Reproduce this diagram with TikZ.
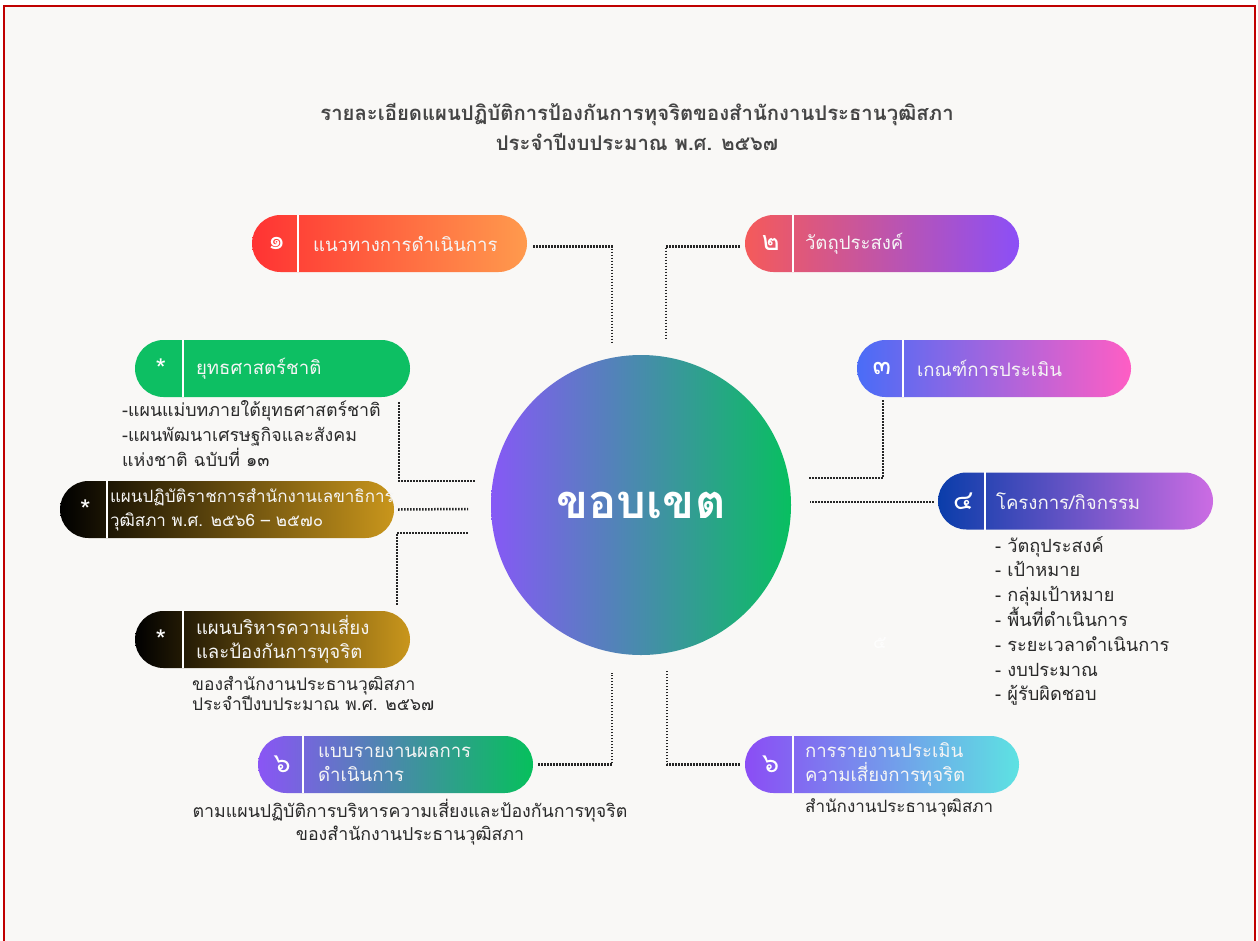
\documentclass[tikz,border=0pt]{standalone}
\usepackage{fontspec}
\setmainfont{Loma}[Script=Thai]
\definecolor{bg}{HTML}{F9F8F6}
\definecolor{frame}{HTML}{C00000}
\definecolor{txt}{HTML}{2A2A2A}
\definecolor{ttl}{HTML}{454545}
\definecolor{dots}{HTML}{262626}
\definecolor{cl}{HTML}{8659F6}\definecolor{cr}{HTML}{08BF60}
\definecolor{p1l}{HTML}{FF3333}\definecolor{p1r}{HTML}{FF9A4D}
\definecolor{p2l}{HTML}{F55A5A}\definecolor{p2r}{HTML}{8B4FF7}
\definecolor{p3l}{HTML}{4A6CF7}\definecolor{p3r}{HTML}{FF5EC4}
\definecolor{p4l}{HTML}{0A3DAA}\definecolor{p4r}{HTML}{CC6CE3}
\definecolor{sg}{HTML}{0DBF63}
\definecolor{gold}{HTML}{C9961C}
\definecolor{p6al}{HTML}{8A55F5}\definecolor{p6ar}{HTML}{06C05C}
\definecolor{p6bl}{HTML}{8B4DF5}\definecolor{p6br}{HTML}{5DE2E2}
\newcommand\mypill[9]{%
  \node[pillbox, minimum width=#4pt, #5] (#1) at (#2,#3) {};
  \draw[divider] ([xshift=#6pt]#1.north west) -- ([xshift=#6pt]#1.south west);
  \node[pillnum] (#1n) at ([xshift=#6pt/2+2pt]#1.west) {#8};
  \node[pilltext, anchor=west] (#1t) at ([xshift=#7pt]#1.west) {#9};
}
\tikzset{
  pillbox/.style={rectangle, rounded corners=28.5pt, minimum height=57pt, inner sep=0pt, draw=none},
  divider/.style={white, line width=2.5pt},
  pillnum/.style={text=white, font=\fontsize{27}{27}\selectfont, inner sep=0pt},
  pilltext/.style={text=white!92!gray, font=\fontsize{18.6}{24}\selectfont, align=left, inner sep=0pt},
  desc/.style={text=txt, font=\fontsize{17.8}{25}\selectfont, inner sep=0pt, align=left},
  conn/.style={draw=dots, line width=2.5pt, dash pattern=on 1.5pt off 1.5pt},
}
\begin{document}
\begin{tikzpicture}[x=1pt,y=-1pt]
\useasboundingbox (0,0) rectangle (1258,940);
\clip (0,0) rectangle (1258,940);
\fill[white] (0,0) rectangle (1258,940);
\draw[frame, line width=2pt, fill=bg] (4,6) rectangle (1255,980);

% title
\node[text=ttl, font=\bfseries\fontsize{20.3}{30}\selectfont, align=center] (title) at (637,127)
  {รายละเอียดแผนปฏิบัติการป้องกันการทุจริตของสำนักงานประธานวุฒิสภา\\ประจำปีงบประมาณ พ.ศ. ๒๕๖๗};

% centre circle
\node[circle, minimum size=300pt, inner sep=0pt, left color=cl, right color=cr] (scope) at (641,505) {};
\node[text=white, font=\bfseries\fontsize{47}{47}\selectfont] (scopet) at (641,505) {ขอบเขต};

% pills
\mypill{p1}{389.5}{243.5}{275}{left color=p1l, right color=p1r}{46}{61}{๑}{แนวทางการดำเนินการ}
\mypill{p2}{882}{243.5}{274}{left color=p2l, right color=p2r}{48}{60}{๒}{วัตถุประสงค์}
\mypill{p3}{994}{368.5}{274}{left color=p3l, right color=p3r}{46}{60}{๓}{เกณฑ์การประเมิน}
\mypill{p4}{1075.5}{501}{275}{left color=p4l, right color=p4r}{47}{58}{๔}{โครงการ/กิจกรรม}
\mypill{s1}{272.5}{368.5}{275}{fill=sg}{48}{61}{*}{ยุทธศาสตร์ชาติ}
\mypill{s2}{227}{509.5}{334}{left color=black, right color=gold}{47}{50}{*}{\fontsize{17}{24}\selectfont แผนปฏิบัติราชการสำนักงานเลขาธิการ\\\fontsize{17}{24}\selectfont วุฒิสภา พ.ศ. ๒๕๖6 – ๒๕๗๐}
\mypill{s3}{272.5}{639.5}{275}{left color=black, right color=gold}{48}{61}{*}{แผนบริหารความเสี่ยง\\และป้องกันการทุจริต}
\mypill{p6a}{395.5}{764.5}{275}{left color=p6al, right color=p6ar}{45}{60}{๖}{แบบรายงานผลการ\\ดำเนินการ}
\mypill{p6b}{882}{764.5}{274}{left color=p6bl, right color=p6br}{48}{60}{๖}{การรายงานประเมิน\\ความเสี่ยงการทุจริต}

% descriptions
\node[desc, anchor=north west] (d1) at (122,400)
  {-แผนแม่บทภายใต้ยุทธศาสตร์ชาติ\\-แผนพัฒนาเศรษฐกิจและสังคม\\แห่งชาติ ฉบับที่ ๑๓};
\node[desc, anchor=north west, font=\fontsize{17.4}{20}\selectfont] (d3) at (192,676)
  {ของสำนักงานประธานวุฒิสภา\\ประจำปีงบประมาณ พ.ศ. ๒๕๖๗};
\node[desc, anchor=north west, font=\fontsize{18.2}{24.8}\selectfont] (d4) at (995,536)
  {- วัตถุประสงค์\\- เป้าหมาย\\- กลุ่มเป้าหมาย\\- พื้นที่ดำเนินการ\\- ระยะเวลาดำเนินการ\\- งบประมาณ\\- ผู้รับผิดชอบ};
\node[desc, align=center, font=\fontsize{17.8}{23}\selectfont] (d6a) at (410,822)
  {ตามแผนปฏิบัติการบริหารความเสี่ยงและป้องกันการทุจริต\\ของสำนักงานประธานวุฒิสภา};
\node[desc, anchor=west, font=\fontsize{17}{20}\selectfont] (d6b) at (805,808) {สำนักงานประธานวุฒิสภา};
\node[text=white, font=\fontsize{18}{18}\selectfont, opacity=0.8] (ghost) at (880,643) {๕};

% connector ends
\coordinate (e1) at (612,342);
\coordinate (e2) at (666,338);
\coordinate (e3) at (808,478);
\coordinate (e4) at (810,502);
\coordinate (es1) at (475,481);
\coordinate (es2) at (468,509);
\coordinate (es3) at (468,533);
\coordinate (e6a) at (612,673);
\coordinate (e6b) at (667,670);

\draw[conn] ([xshift=6pt,yshift=-3pt]p1.east) -| (e1);
\draw[conn] ([xshift=-5pt,yshift=-3pt]p2.west) -| (e2);
\draw[conn] ([xshift=26pt,yshift=-3pt]p3.south west) |- (e3);
\draw[conn] ([xshift=-4pt,yshift=-1pt]p4.west) -- (e4);
\draw[conn] ([xshift=-11pt,yshift=-5pt]s1.south east) |- (es1);
\draw[conn] ([xshift=4pt]s2.east) -- (es2);
\draw[conn] ([xshift=-13pt,yshift=6pt]s3.north east) |- (es3);
\draw[conn] ([xshift=5pt]p6a.east) -| (e6a);
\draw[conn] ([xshift=-5pt]p6b.west) -| (e6b);
\end{tikzpicture}
\end{document}
